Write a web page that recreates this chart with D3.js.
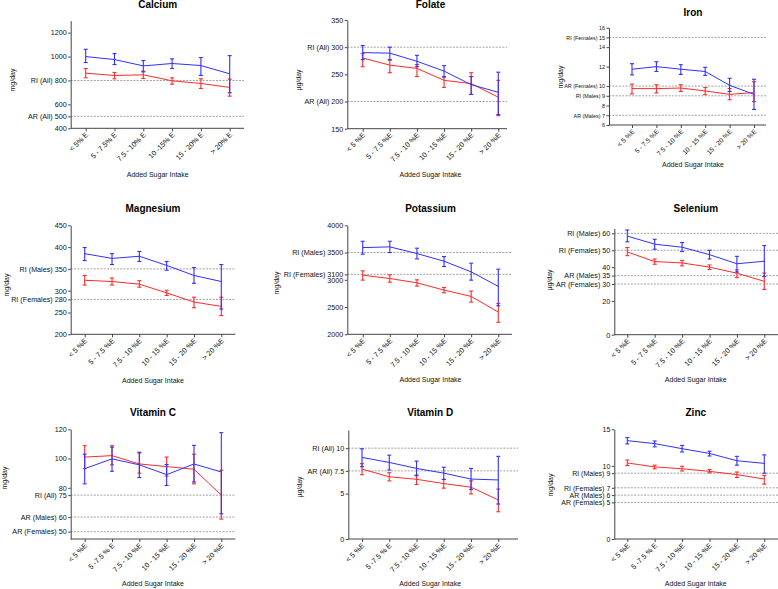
<!DOCTYPE html>
<html>
<head>
<meta charset="utf-8">
<script src="https://d3js.org/d3.v7.min.js"></script>
<style>
  body { margin: 0; background: #fff; }
  svg { font-family: "Liberation Sans", Arial, sans-serif; }
  .tick text { fill: #111; }
  .tick line, .domain { stroke: #444; }
</style>
</head>
<body>
<svg id="chart" width="778" height="589"></svg>
<script>
// nutrient intake by added sugar band, blue = males, red = females

var nutrients = ["Calcium", "Folate", "Iron", "Magnesium", "Potassium", "Selenium", "Vitamin C", "Vitamin D", "Zinc"];
var units = ["mg/day", "µg/day", "mg/day", "mg/day", "mg/day", "µg/day", "mg/day", "µg/day", "mg/day"];

var catsCalcium = ["< 5% E", "5 - 7.5% E", "7.5 - 10% E", "10 -15% E", "15 - 20% E", "> 20% E"];
var catsStd = ["< 5 %E", "5 - 7.5 %E", "7.5 - 10 %E", "10 - 15 %E", "15 - 20 %E", "> 20 %E"];
var catsAlt = ["< 5 %E", "5 -7.5 % E", "7.5 - 10 %E", "10 - 15 %E", "15 - 20 %E", "> 20 %E"];
var catSets = [catsCalcium, catsStd, catsStd, catsStd, catsStd, catsStd, catsAlt, catsAlt, catsAlt];

var malesMean = [
  [1000, 975, 922, 942, 925, 856],
  [290, 289, 274, 256, 231, 217],
  [11.73, 12.0, 11.73, 11.5, 10.08, 9.15],
  [385, 374, 379, 358, 335, 321],
  [3591, 3604, 3482, 3341, 3146, 2878],
  [58.4, 53.6, 51.8, 47.4, 42, 43.5],
  [93.1, 99.8, 95.7, 89, 96.3, 90.8],
  [8.98, 8.43, 7.77, 7.25, 6.6, 6.5],
  [13.45, 13.04, 12.35, 11.7, 10.7, 10.34]
];
var malesLo = [
  [950, 933, 872, 900, 842, 697],
  [277, 277, 264, 245, 213, 176],
  [11.15, 11.5, 11.2, 11.1, 9.45, 7.6],
  [369, 360, 367, 347, 317, 258],
  [3470, 3500, 3384, 3244, 2994, 2524],
  [55, 50.6, 49.2, 44.8, 37.1, 34.4],
  [82.7, 91.3, 87, 81.6, 84, 62.2],
  [7.96, 7.6, 6.96, 6.55, 5.46, 3.85],
  [13, 12.6, 11.9, 11.35, 10.1, 9]
];
var malesHi = [
  [1061, 1025, 967, 981, 992, 1008],
  [303, 300, 285, 266, 246, 254],
  [12.3, 12.5, 12.2, 11.93, 10.8, 10.7],
  [399, 385, 390, 367, 353, 360],
  [3707, 3707, 3580, 3427, 3305, 3195],
  [62, 56.5, 54.6, 50, 46.4, 52.8],
  [103, 107.8, 104.3, 95.9, 109, 117.7],
  [9.93, 9.23, 8.57, 7.9, 7.77, 9.1],
  [13.86, 13.4, 12.8, 12, 11.3, 11.5]
];
var femalesMean = [
  [861, 842, 847, 797, 775, 742],
  [280, 267, 261, 239, 233, 208],
  [9.74, 9.74, 9.8, 9.5, 9.15, 9.33],
  [324, 321, 315, 295, 274, 264],
  [3085, 3024, 2945, 2811, 2695, 2408],
  [49, 43.3, 42.5, 40, 36.4, 31.6],
  [101, 102, 96.3, 94.5, 92.7, 75],
  [7.7, 6.85, 6.57, 6.1, 5.7, 4.3],
  [10.4, 9.86, 9.6, 9.25, 8.8, 8.2]
];
var femalesLo = [
  [822, 814, 817, 769, 733, 669],
  [264, 253, 246, 226, 213, 174],
  [9.2, 9.3, 9.45, 9.12, 8.6, 8.4],
  [313, 313, 308, 289, 261, 243],
  [2994, 2957, 2884, 2762, 2591, 2220],
  [46.8, 41.7, 40.8, 38.6, 33.8, 26.8],
  [93.1, 95.7, 90, 88, 82.7, 58.6],
  [7.08, 6.4, 6.0, 5.6, 4.96, 3.0],
  [10.05, 9.6, 9.3, 9.05, 8.4, 7.5]
];
var femalesHi = [
  [900, 867, 878, 822, 814, 811],
  [288, 276, 268, 246, 253, 239],
  [10.2, 10.14, 10.14, 9.85, 9.75, 10.45],
  [335, 329, 323, 301, 285, 285],
  [3165, 3091, 3000, 2860, 2793, 2567],
  [51.6, 44.8, 44, 41.3, 38.4, 36.5],
  [108.8, 108.8, 103.8, 101, 103, 92],
  [8.3, 7.3, 7.04, 6.57, 6.4, 5.5],
  [10.8, 10.1, 9.95, 9.5, 9.16, 8.7]
];

var yDomains = [[400, 1300], [150, 350], [6, 16], [200, 450], [2000, 4000], [0, 63], [45, 120], [0, 12], [0, 15]];
var yTicks = [
  [400, 500, 600, 800, 1000, 1200],
  [150, 200, 250, 300, 350],
  [6, 7, 8, 9, 10, 12, 14, 15, 16],
  [200, 250, 280, 300, 350, 400, 450],
  [2000, 2500, 3000, 3100, 3500, 4000],
  [0, 20, 30, 35, 40, 50, 60],
  [50, 60, 75, 80, 100, 120],
  [0, 5, 7.5, 10],
  [0, 5, 6, 7, 9, 10, 15]
];
var refLabels = [
  ["RI (All)", "AR (All)"],
  ["RI (All)", "AR (All)"],
  ["RI (Females)", "AR (Females)", "RI (Males)", "AR (Males)"],
  ["RI (Males)", "RI (Females)"],
  ["RI (Males)", "RI (Females)"],
  ["RI (Males)", "RI (Females)", "AR (Males)", "AR (Females)"],
  ["RI (All)", "AR (Males)", "AR (Females)"],
  ["RI (All)", "AR (All)"],
  ["RI (Males)", "RI (Females)", "AR (Males)", "AR (Females)"]
];
var refValues = [
  [800, 500],
  [300, 200],
  [15, 10, 9, 7],
  [350, 280],
  [3500, 3100],
  [60, 50, 35, 30],
  [75, 60, 50],
  [10, 7.5],
  [9, 7, 6, 5]
];

// panel boxes: axis left/right, top/bottom, first/last category, title y, axis title y, y label x/y, font sizes
var layout = [
  {x0: 70.7, x1: 244, y0: 20.7, y1: 128.3, c0: 85.7, c1: 229.7, ty: 8.3, ay: 176.7, lx: 12, ly: 80, fs: 7.2, cs: 7.2},
  {x0: 347.3, x1: 507, y0: 20, y1: 128.7, c0: 362.7, c1: 498.3, ty: 8.3, ay: 176.7, lx: 298, ly: 80, fs: 7.2, cs: 7.2},
  {x0: 609, x1: 766, y0: 27.7, y1: 125, c0: 632, c1: 754, ty: 16, ay: 166.7, lx: 560, ly: 77, fs: 5.4, cs: 6.6},
  {x0: 70.7, x1: 235.3, y0: 225.3, y1: 334.3, c0: 84.7, c1: 221.3, ty: 212, ay: 382.7, lx: 6, ly: 285, fs: 7.2, cs: 7.2},
  {x0: 347.3, x1: 512, y0: 225.3, y1: 334.3, c0: 362.7, c1: 498.3, ty: 212, ay: 382, lx: 276, ly: 283, fs: 7.2, cs: 7.2},
  {x0: 614.3, x1: 778, y0: 228.3, y1: 334.7, c0: 627.3, c1: 764.3, ty: 211.7, ay: 382, lx: 549, ly: 280, fs: 7.2, cs: 7.2},
  {x0: 70.7, x1: 235.3, y0: 429.3, y1: 539, c0: 84.7, c1: 221.3, ty: 416, ay: 586, lx: 4.5, ly: 478, fs: 7.2, cs: 7.2},
  {x0: 348.3, x1: 518, y0: 430, y1: 539, c0: 362, c1: 498.3, ty: 416, ay: 586, lx: 299.5, ly: 487, fs: 7.2, cs: 7.2},
  {x0: 614.3, x1: 778, y0: 429.3, y1: 539, c0: 627.3, c1: 764.3, ty: 416, ay: 586, lx: 550, ly: 485, fs: 7, cs: 7.2}
];

var svg = d3.select("#chart");
var blue = "#3030ff";
var red = "#ff2a2a";

nutrients.forEach(function(name, i) {
  var L = layout[i];
  var cats = catSets[i];
  var g = svg.append("g");

  var x = d3.scalePoint().domain(cats).range([L.c0, L.c1]);
  var y = d3.scaleLinear().domain(yDomains[i]).range([L.y1, L.y0]);

  // reference lines
  g.selectAll(".ref")
    .data(refValues[i])
    .enter()
    .append("line")
    .attr("x1", L.x0)
    .attr("x2", L.x1)
    .attr("y1", function(d) { return y(d); })
    .attr("y2", function(d) { return y(d); })
    .attr("stroke", "#8a8a8a")
    .attr("stroke-width", 0.8)
    .attr("stroke-dasharray", "2,1.3");

  // y axis
  var yAxis = d3.axisLeft(y)
    .tickValues(yTicks[i])
    .tickSize(2.5)
    .tickSizeOuter(0)
    .tickPadding(1.5)
    .tickFormat(function(d) {
      var k = refValues[i].indexOf(d);
      return (k >= 0 ? refLabels[i][k] + " " : "") + d;
    });
  var yg = g.append("g")
    .attr("transform", "translate(" + L.x0 + ",0)")
    .call(yAxis);
  yg.selectAll(".tick text").attr("font-size", L.fs);

  // x axis
  var xAxis = d3.axisBottom(x).tickSize(3).tickSizeOuter(0).tickFormat("");
  var xg = g.append("g")
    .attr("transform", "translate(0," + L.y1 + ")")
    .call(xAxis);
  xg.select(".domain").remove();
  xg.append("line")
    .attr("x1", L.x0).attr("x2", L.x1)
    .attr("stroke", "#444");

  g.selectAll(".cat")
    .data(cats)
    .enter()
    .append("text")
    .attr("transform", function(d) {
      return "translate(" + (x(d) + 3) + "," + (L.y1 + 7) + ") rotate(-45)";
    })
    .attr("text-anchor", "end")
    .attr("font-size", L.cs)
    .attr("fill", "#111")
    .text(function(d) { return d; });

  // series
  var series = [
    {mean: femalesMean[i], lo: femalesLo[i], hi: femalesHi[i], color: red},
    {mean: malesMean[i], lo: malesLo[i], hi: malesHi[i], color: blue}
  ];
  series.forEach(function(s) {
    var pts = cats.map(function(c, j) { return {c: c, m: s.mean[j], lo: s.lo[j], hi: s.hi[j]}; });
    g.append("path")
      .datum(pts)
      .attr("fill", "none")
      .attr("stroke", s.color)
      .attr("stroke-width", 1)
      .attr("d", d3.line().x(function(d) { return x(d.c); }).y(function(d) { return y(d.m); }));

    var eb = g.selectAll(null).data(pts).enter().append("g").attr("stroke", s.color).attr("stroke-width", 1.1);
    eb.append("line")
      .attr("x1", function(d) { return x(d.c); })
      .attr("x2", function(d) { return x(d.c); })
      .attr("y1", function(d) { return y(d.lo); })
      .attr("y2", function(d) { return y(d.hi); });
    eb.append("line")
      .attr("x1", function(d) { return x(d.c) - 2; })
      .attr("x2", function(d) { return x(d.c) + 2; })
      .attr("y1", function(d) { return y(d.lo); })
      .attr("y2", function(d) { return y(d.lo); });
    eb.append("line")
      .attr("x1", function(d) { return x(d.c) - 2; })
      .attr("x2", function(d) { return x(d.c) + 2; })
      .attr("y1", function(d) { return y(d.hi); })
      .attr("y2", function(d) { return y(d.hi); });
  });

  // titles
  var mid = (L.c0 + L.c1) / 2;
  g.append("text")
    .attr("x", mid).attr("y", L.ty)
    .attr("text-anchor", "middle")
    .attr("font-size", 10)
    .attr("font-weight", "bold")
    .text(name);
  g.append("text")
    .attr("x", mid).attr("y", L.ay)
    .attr("text-anchor", "middle")
    .attr("font-size", 7)
    .attr("fill", "#111")
    .text("Added Sugar Intake");
  g.append("text")
    .attr("transform", "translate(" + L.lx + "," + L.ly + ") rotate(-90)")
    .attr("text-anchor", "middle")
    .attr("dominant-baseline", "central")
    .attr("font-size", 7)
    .attr("fill", "#111")
    .text(units[i]);
});
</script>
</body>
</html>
